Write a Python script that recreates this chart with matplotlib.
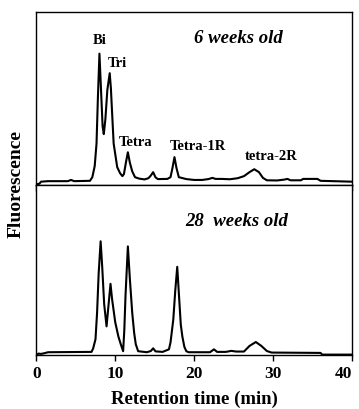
import matplotlib
matplotlib.use("Agg")
import matplotlib.pyplot as plt

# retention time (min) / fluorescence
t_6wk = [0.0, 0.4, 0.6, 1.5, 4.0, 4.4, 4.8, 6.8, 7.1, 7.4, 7.63, 7.8, 8.0, 8.2,
         8.4, 8.55, 8.75, 9.0, 9.3, 9.45, 9.6, 9.8, 10.25, 10.6, 10.9, 11.1, 11.35,
         11.6, 11.85, 12.15, 12.5, 13.0, 13.7, 14.2, 14.5, 14.8, 15.1, 15.4, 16.6,
         17.0, 17.25, 17.5, 17.75, 18.05, 19.0, 20.0, 21.0, 21.8, 22.3, 22.7, 23.5,
         24.5, 25.5, 26.3, 27.0, 27.6, 28.2, 28.7, 29.2, 30.5, 31.4, 31.8, 32.2, 33.5,
         33.8, 35.6, 36.0, 40.0]
f_6wk = [0.5, 0.8, 2.0, 2.3, 2.3, 3.0, 2.3, 2.5, 4.6, 11, 24, 50, 76, 55,
         34, 29.5, 38, 55, 64.7, 56, 42, 24, 10.4, 7, 5.2, 6.4, 13,
         19, 13, 8, 4.6, 3.8, 3.3, 4.0, 5.5, 7.5, 4.5, 3.5, 3.6,
         4.6, 10, 16.2, 10, 4.6, 3.5, 3.0, 3.0, 3.5, 4.2, 3.6, 3.6,
         3.4, 4.0, 5.2, 7.5, 9.2, 7.5, 4.2, 2.8, 2.7, 3.2, 3.6, 2.8, 2.8,
         3.6, 3.6, 2.5, 2.0]

t_28wk = [0.0, 0.3, 0.6, 1.0, 1.5, 7.0, 7.2, 7.5, 7.7, 7.9, 8.15, 8.35, 8.6, 8.9,
          9.1, 9.4, 9.6, 10.0, 10.4, 10.7, 11.0, 11.15, 11.3, 11.6, 11.85, 12.15,
          12.4, 12.6, 12.9, 14.0, 14.5, 14.8, 15.1, 16.0, 16.8, 17.0, 17.35, 17.6,
          17.85, 18.1, 18.3, 18.5, 18.75, 19.0, 19.3, 22.0, 22.5, 22.9, 24.0, 24.7,
          25.3, 26.3, 27.0, 27.8, 28.5, 29.2, 29.8, 36.0, 36.2, 40.0]
f_28wk = [0.3, 1.0, 0.8, 1.2, 1.8, 2.0, 4.0, 9.4, 25, 48, 67, 52, 30, 17,
          27, 42, 33, 19.4, 11, 6.5, 2.4, 15, 35, 64, 45, 25,
          13, 6.5, 2.4, 1.8, 2.5, 4.1, 2.3, 2.0, 3.5, 7.6, 21, 38,
          52, 33, 18, 11, 5, 2.4, 1.8, 1.8, 3.5, 2.0, 2.0, 2.6,
          2.2, 2.2, 5.5, 7.8, 5.5, 2.5, 1.6, 1.4, 0.4, 0.4]

peak_names = ["Bi", "Tri", "Tetra", "Tetra-1R", "tetra-2R"]
peak_pos = [(8.0, 84), (10.3, 71), (12.6, 25), (20.5, 23), (29.7, 17)]

serif = ["Liberation Serif", "DejaVu Serif"]

fig = plt.figure(figsize=(3.59, 4.10), dpi=100)
ax1 = fig.add_axes([0.101, 0.546, 0.880, 0.422])
ax2 = fig.add_axes([0.101, 0.131, 0.880, 0.415], sharex=ax1)

for ax in (ax1, ax2):
    ax.set_xlim(0, 40)
    ax.set_ylim(0, 100)
    ax.set_yticks([])
    for s in ax.spines.values():
        s.set_linewidth(1.0)

ax1.plot(t_6wk, f_6wk, color="black", lw=1.5)
ax2.plot(t_28wk, f_28wk, color="black", lw=1.5)

ax1.set_xticks([10, 20, 30])
ax1.tick_params(axis="x", direction="out", length=4, width=1, labelbottom=False)
ax2.set_xticks([0, 10, 20, 30, 40])
ax2.tick_params(axis="x", direction="out", length=4, width=1, pad=3)
for lab in ax2.get_xticklabels():
    lab.set_fontfamily(serif)
    lab.set_fontweight("bold")
    lab.set_fontsize(12.5)
# last label sits against the right edge, as in the original
ax2.get_xticklabels()[-1].set_ha("right")

for name, (x, y) in zip(peak_names, peak_pos):
    ax1.text(x, y, name, ha="center", va="center", fontsize=10.5,
             fontweight="bold", family=serif)

ax1.text(0.64, 0.855, "6 weeks old", transform=ax1.transAxes, ha="center",
         va="center", fontsize=13.5, fontweight="bold", style="italic", family=serif)
ax2.text(0.633, 0.79, "28  weeks old", transform=ax2.transAxes, ha="center",
         va="center", fontsize=13.5, fontweight="bold", style="italic", family=serif)

ax2.set_xlabel("Retention time (min)", fontsize=13.5, fontweight="bold", family=serif,
               labelpad=6)
fig.text(0.045, 0.55, "Fluorescence", rotation=90, ha="center", va="center",
         fontsize=14, fontweight="bold", family=serif)

fig.savefig("out.png", dpi=100)
